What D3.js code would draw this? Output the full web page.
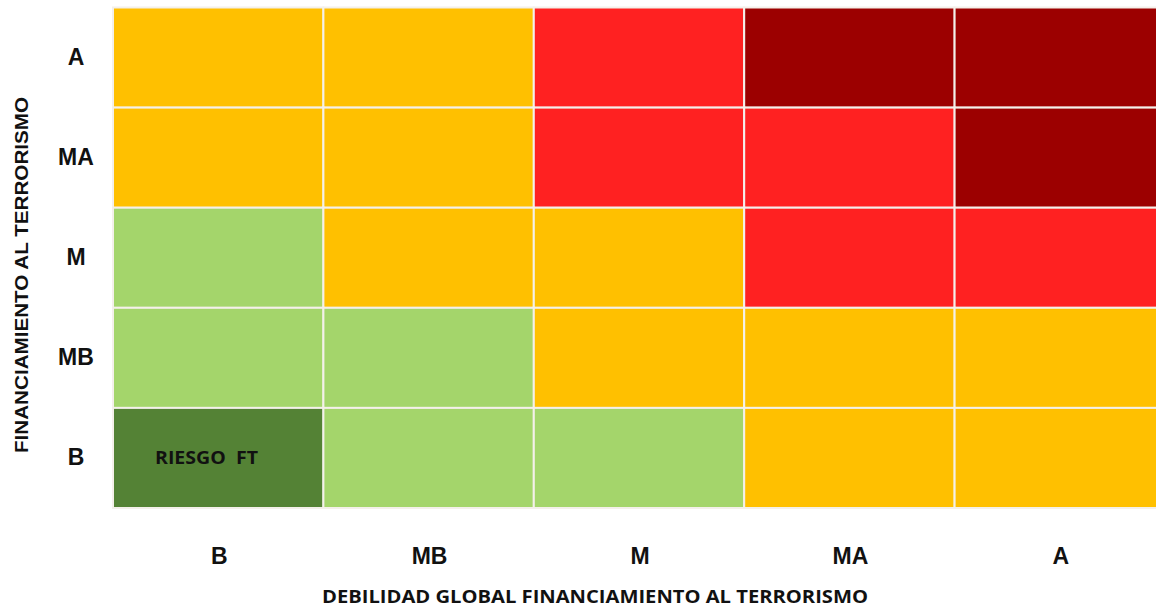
<!DOCTYPE html>
<html>
<head>
<meta charset="utf-8">
<script src="https://cdn.jsdelivr.net/npm/d3@7"></script>
<style>
  body { margin: 0; background: #fff; }
  svg text { font-family: "Liberation Sans", Arial, sans-serif; font-weight: bold; fill: #111; }
</style>
</head>
<body>
<div id="chart"></div>
<script>
// categories
var xCategories = ["B", "MB", "M", "MA", "A"];
var yCategories = ["A", "MA", "M", "MB", "B"];   // top to bottom

// risk level per cell, one row per y category (top to bottom)
var rowA  = ["medio", "medio", "alto", "muyAlto", "muyAlto"];
var rowMA = ["medio", "medio", "alto", "alto", "muyAlto"];
var rowM  = ["bajo", "medio", "medio", "alto", "alto"];
var rowMB = ["bajo", "bajo", "medio", "medio", "medio"];
var rowB  = ["muyBajo", "bajo", "bajo", "medio", "medio"];

var riskLevels = ["muyBajo", "bajo", "medio", "alto", "muyAlto"];
var riskColors = ["#548235", "#a4d56b", "#ffc000", "#ff2121", "#9c0000"];

var xTitle = "DEBILIDAD GLOBAL FINANCIAMIENTO AL TERRORISMO";
var yTitle = "FINANCIAMIENTO AL TERRORISMO";
var cellNote = "RIESGO  FT";

var _outer = { width: 1156, height: 609 };
var _plot = { left: 113, right: 1165, top: 7.5, bottom: 508 };

var rows = [rowA, rowMA, rowM, rowMB, rowB];
var cells = [];
rows.forEach(function (r, i) {
	r.forEach(function (lvl, j) {
		cells.push({ y: yCategories[i], x: xCategories[j], level: lvl });
	});
});

var xScale = d3.scaleBand().domain(xCategories).range([_plot.left, _plot.right]);
var yScale = d3.scaleBand().domain(yCategories).range([_plot.top, _plot.bottom]);
var color = d3.scaleOrdinal().domain(riskLevels).range(riskColors);

var svg = d3.select("#chart").append("svg")
	.attr("width", _outer.width)
	.attr("height", _outer.height);

svg.append("g").attr("class", "cells")
	.selectAll("rect")
	.data(cells)
	.enter()
	.append("rect")
	.attr("x", function (d) { return xScale(d.x); })
	.attr("y", function (d) { return yScale(d.y); })
	.attr("width", xScale.bandwidth())
	.attr("height", yScale.bandwidth())
	.attr("fill", function (d) { return color(d.level); })
	.attr("stroke", "#f4f0ea")
	.attr("stroke-width", 2);

// note inside the bottom-left cell (keep the double space)
svg.append("text")
	.attr("x", xScale("B") + 42)
	.attr("y", yScale("B") + yScale.bandwidth() / 2 + 6)
	.attr("textLength", 103)
	.attr("lengthAdjust", "spacingAndGlyphs")
	.style("white-space", "pre")
	.style("font-family", "'Open Sans', sans-serif")
	.style("font-size", "17px")
	.text(cellNote);

// y axis (category labels, no line)
var yAxis = d3.axisLeft(yScale).tickSize(0).tickPadding(0);
svg.append("g")
	.attr("class", "y axis")
	.attr("transform", "translate(" + (76) + ",0)")
	.call(yAxis)
	.call(function (g) { g.select(".domain").remove(); })
	.selectAll("text")
	.attr("text-anchor", "middle")
	.attr("x", 0)
	.style("font-size", "23px");

// x axis
var xAxis = d3.axisBottom(xScale).tickSize(0).tickPadding(0);
svg.append("g")
	.attr("class", "x axis")
	.attr("transform", "translate(1," + 548 + ")")
	.call(xAxis)
	.call(function (g) { g.select(".domain").remove(); })
	.selectAll("text")
	.attr("dy", "0.71em")
	.style("font-size", "23px");

// titles
svg.append("text")
	.attr("x", 595)
	.attr("y", 603)
	.attr("text-anchor", "middle")
	.attr("textLength", 546)
	.attr("lengthAdjust", "spacingAndGlyphs")
	.style("font-family", "'Open Sans', sans-serif")
	.style("font-size", "18px")
	.text(xTitle);

svg.append("text")
	.attr("transform", "translate(28," + 275 + ") rotate(-90)")
	.attr("text-anchor", "middle")
	.attr("textLength", 356)
	.attr("lengthAdjust", "spacingAndGlyphs")
	.style("font-size", "18px")
	.text(yTitle);
</script>
</body>
</html>
